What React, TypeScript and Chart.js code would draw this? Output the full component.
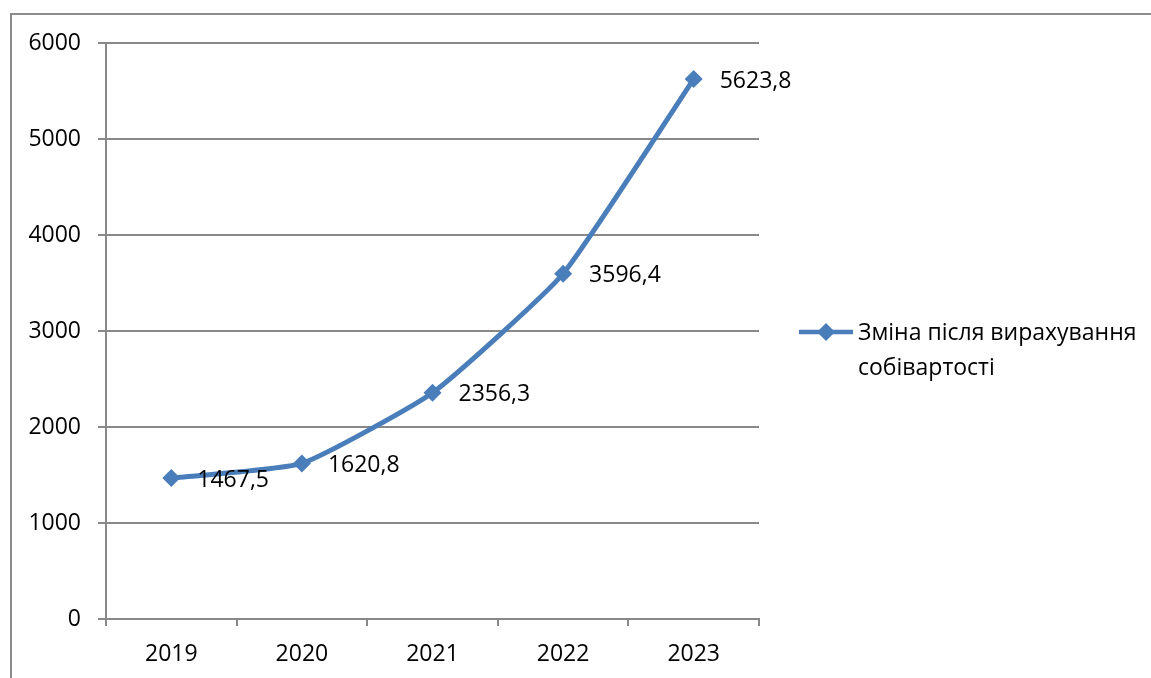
import React, { useEffect, useRef } from "react";
import { Chart, registerables } from "chart.js";

Chart.register(...registerables);

const categories = ["2019", "2020", "2021", "2022", "2023"];
const values = [1467.5, 1620.8, 2356.3, 3596.4, 5623.8];
const valueLabels = ["1467,5", "1620,8", "2356,3", "3596,4", "5623,8"];
const seriesLabel = "Зміна після вирахування собівартості";
const yTicks = [0, 1000, 2000, 3000, 4000, 5000, 6000];

const LINE_COLOR = "#4A7EBB";
const GRID_COLOR = "#888888";
const FONT = "'Open Sans', 'Noto Sans', sans-serif";
const FONT_SIZE = 23;

const labelsPlugin = {
  id: "valueLabels",
  afterDatasetsDraw(chart: any) {
    const ctx = chart.ctx;
    const meta = chart.getDatasetMeta(0);
    ctx.save();
    ctx.font = `${FONT_SIZE}px ${FONT}`;
    ctx.fillStyle = "#000";
    ctx.textAlign = "left";
    ctx.textBaseline = "middle";
    meta.data.forEach((pt: any, i: number) => {
      ctx.fillText(valueLabels[i], pt.x + 26, pt.y + 2);
    });
    ctx.restore();
  },
};

const legendPlugin = {
  id: "sideLegend",
  afterDraw(chart: any) {
    const ctx = chart.ctx;
    const area = chart.chartArea;
    const ds = chart.data.datasets[0];
    const x0 = area.right + 40;
    const y0 = (area.top + area.bottom) / 2 + 1;
    ctx.save();
    ctx.strokeStyle = ds.borderColor;
    ctx.lineWidth = 4.5;
    ctx.beginPath();
    ctx.moveTo(x0, y0);
    ctx.lineTo(x0 + 54, y0);
    ctx.stroke();
    ctx.fillStyle = ds.pointBackgroundColor;
    const cx = x0 + 27;
    const r = 9;
    ctx.beginPath();
    ctx.moveTo(cx, y0 - r);
    ctx.lineTo(cx + r, y0);
    ctx.lineTo(cx, y0 + r);
    ctx.lineTo(cx - r, y0);
    ctx.closePath();
    ctx.fill();
    ctx.font = `${FONT_SIZE}px ${FONT}`;
    ctx.fillStyle = "#000";
    ctx.textAlign = "left";
    ctx.textBaseline = "middle";
    const words = String(ds.label).split(" ");
    const lines: string[] = [];
    let cur = "";
    const maxW = 285;
    words.forEach((w) => {
      const t = cur ? cur + " " + w : w;
      if (ctx.measureText(t).width > maxW && cur) {
        lines.push(cur);
        cur = w;
      } else cur = t;
    });
    if (cur) lines.push(cur);
    lines.forEach((l, i) => ctx.fillText(l, x0 + 59, y0 + 1 + i * 35));
    ctx.restore();
  },
};

export default function App() {
  const ref = useRef<HTMLCanvasElement | null>(null);
  useEffect(() => {
    if (!ref.current) return;
    const chart = new Chart(ref.current, {
      type: "line",
      data: {
        labels: categories,
        datasets: [
          {
            label: seriesLabel,
            data: values,
            borderColor: LINE_COLOR,
            backgroundColor: LINE_COLOR,
            pointBackgroundColor: LINE_COLOR,
            pointBorderColor: LINE_COLOR,
            borderWidth: 5,
            pointStyle: "rectRot",
            pointRadius: 9,
            pointBorderWidth: 0,
            tension: 0.15,
          },
        ],
      },
      options: {
        animation: false,
        responsive: false,
        devicePixelRatio: 1,
        layout: { padding: { left: 0, top: 43, right: 392, bottom: 0 } },
        plugins: {
          legend: { display: false },
          tooltip: { enabled: false },
        },
        scales: {
          x: {
            type: "category",
            offset: true,
            afterFit: (s: any) => {
              s.height = 59;
            },
            grid: {
              offset: true,
              drawOnChartArea: false,
              drawTicks: true,
              tickLength: 7,
              color: GRID_COLOR,
              lineWidth: 2,
            },
            border: { color: GRID_COLOR, width: 2 },
            ticks: {
              color: "#000",
              font: { family: FONT, size: FONT_SIZE },
              padding: 15,
            },
          },
          y: {
            min: 0,
            max: 6000,
            afterFit: (s: any) => {
              s.width = 106;
            },
            afterBuildTicks: (s: any) => {
              s.ticks = yTicks.map((v) => ({ value: v }));
            },
            grid: {
              color: GRID_COLOR,
              lineWidth: 2,
              tickLength: 8,
            },
            border: { color: GRID_COLOR, width: 2 },
            ticks: {
              color: "#000",
              font: { family: FONT, size: FONT_SIZE },
              padding: 17,
              callback: (v: any) => String(v),
            },
          },
        },
      },
      plugins: [labelsPlugin, legendPlugin],
    });
    return () => chart.destroy();
  }, []);

  return (
    <div
      style={{
        position: "fixed",
        left: 0,
        top: 0,
        width: 1151,
        height: 678,
        background: "#fff",
        overflow: "hidden",
      }}
    >
      <div
        style={{
          position: "absolute",
          left: 10,
          top: 13,
          width: 1300,
          height: 800,
          borderTop: "2px solid #8c8c8c",
          borderLeft: "2px solid #8c8c8c",
        }}
      />
      <canvas
        ref={ref}
        width={1151}
        height={678}
        style={{ position: "absolute", left: 0, top: 0, width: 1151, height: 678 }}
      />
    </div>
  );
}
